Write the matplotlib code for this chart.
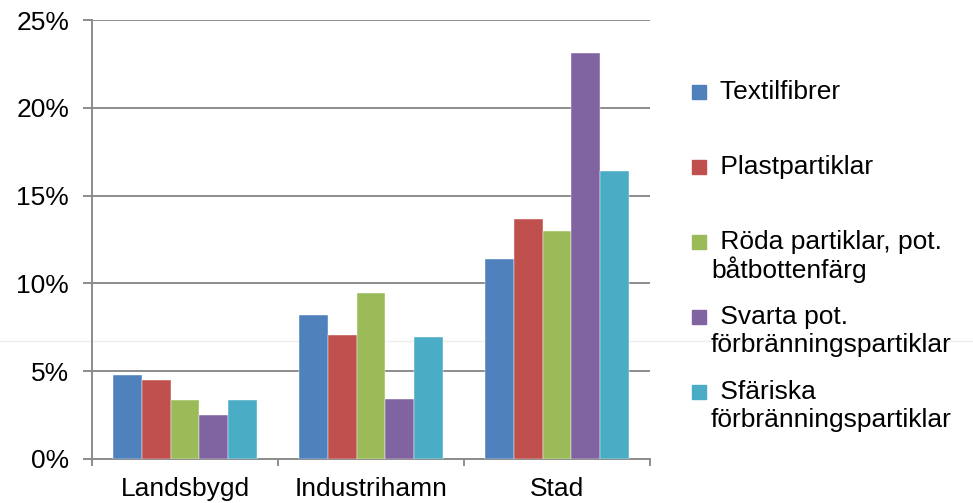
import matplotlib
matplotlib.use("Agg")
import matplotlib.pyplot as plt
import numpy as np
from matplotlib.patches import Rectangle
from matplotlib.lines import Line2D
from matplotlib.ticker import FuncFormatter, MultipleLocator

# Andel partiklar per miljö (procent)
places = ["Landsbygd", "Industrihamn", "Stad"]
series = [
    " Textilfibrer",
    " Plastpartiklar",
    " Röda partiklar, pot.\nbåtbottenfärg",
    " Svarta pot.\nförbränningspartiklar",
    " Sfäriska\nförbränningspartiklar",
]
textilfibrer = [4.8, 8.2, 11.4]
plastpartiklar = [4.5, 7.05, 13.65]
roda = [3.35, 9.45, 13.0]
svarta = [2.5, 3.4, 23.1]
sfariska = [3.35, 6.95, 16.4]
values = [textilfibrer, plastpartiklar, roda, svarta, sfariska]
colors = ["#4F81BD", "#C0504D", "#9BBB59", "#8064A2", "#4BACC6"]

W, H = 973, 503
FS = 19
plt.rcParams["font.family"] = ["Liberation Sans", "DejaVu Sans"]

fig = plt.figure(figsize=(W / 100, H / 100), dpi=100)
ax = fig.add_axes([92 / W, 1 - 459 / H, (650 - 92) / W, (459 - 20) / H])
ax.patch.set_alpha(0)

grid_col = "#8c8c8c"
n = len(values)
width = 1 / 6.5
x = np.arange(len(places))
for i, (vals, c) in enumerate(zip(values, colors)):
    ax.bar(x + (i - (n - 1) / 2) * width, vals, width, color=c,
           edgecolor="white", linewidth=0.3, zorder=3)

ax.set_xlim(-0.5, len(places) - 0.5)
ax.set_ylim(0, 25)
ax.yaxis.set_major_locator(MultipleLocator(5))
ax.yaxis.set_major_formatter(FuncFormatter(lambda v, p: f"{v:.0f}%"))
ax.grid(axis="y", color=grid_col, linewidth=1.4, zorder=1)

ax.set_xticks(x)
ax.set_xticklabels(places)
ax.set_xticks(np.arange(len(places) + 1) - 0.5, minor=True)
ax.tick_params(axis="x", which="major", length=0, pad=13, labelsize=FS)
ax.tick_params(axis="x", which="minor", length=5, width=1.4, color=grid_col)
ax.tick_params(axis="y", length=6.5, width=1.4, color=grid_col, pad=10, labelsize=FS)

for side in ["top", "right"]:
    ax.spines[side].set_visible(False)
for side in ["left", "bottom"]:
    ax.spines[side].set_color(grid_col)
    ax.spines[side].set_linewidth(1.4)


def fx(px):
    return px / W


def fy(py):
    return 1 - py / H


# faint horizontal line behind the bars
fig.add_artist(Line2D([0, 1], [fy(340.5), fy(340.5)], color="#eeeeea", lw=1, zorder=-1))

# legend drawn by hand so the wrapped lines sit like the original
for i, (name, c) in enumerate(zip(series, colors)):
    ym = 92 + 75 * i
    fig.add_artist(Rectangle((fx(692), fy(ym + 7)), 14 / W, 14 / H,
                             transform=fig.transFigure, color=c))
    lines = name.split("\n")
    fig.text(fx(713), fy(ym), lines[0], fontsize=FS, va="center", ha="left")
    for k, extra in enumerate(lines[1:], start=1):
        fig.text(fx(711), fy(ym + 28 * k), extra, fontsize=FS, va="center", ha="left")

fig.savefig("out.png", dpi=100)
